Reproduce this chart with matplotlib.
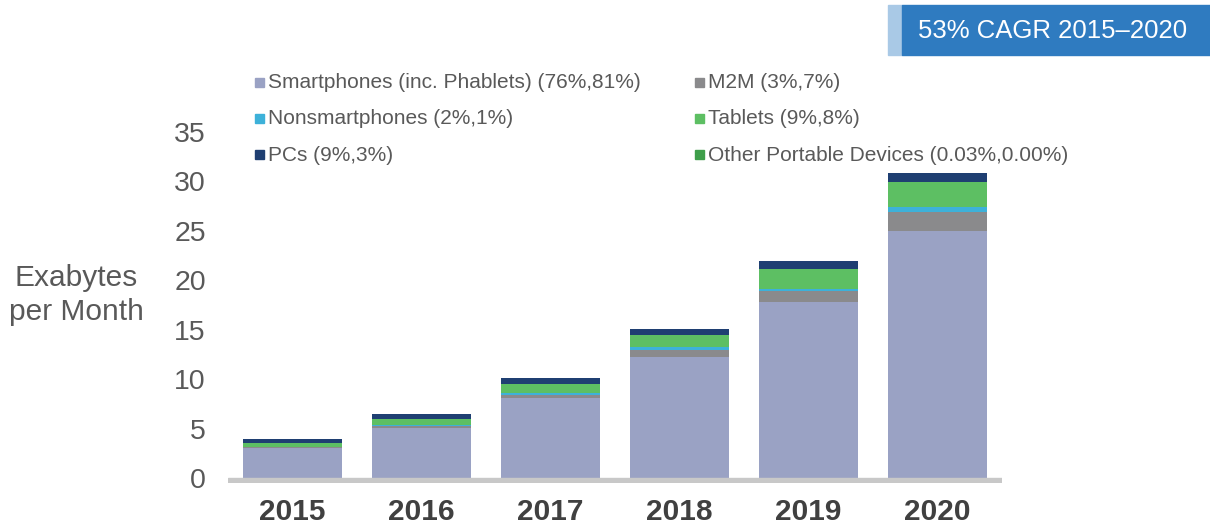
import matplotlib
matplotlib.use("Agg")
import matplotlib.pyplot as plt
import numpy as np

# data (exabytes per month)
years = ["2015", "2016", "2017", "2018", "2019", "2020"]
smartphones = [3.0, 5.1, 8.1, 12.2, 17.8, 25.0]
m2m = [0.1, 0.15, 0.35, 0.8, 1.1, 1.9]
nonsmartphones = [0.05, 0.1, 0.2, 0.3, 0.2, 0.5]
tablets = [0.35, 0.65, 0.9, 1.2, 2.0, 2.5]
pcs = [0.4, 0.5, 0.6, 0.6, 0.9, 1.0]
other_portable = [0.0, 0.0, 0.0, 0.0, 0.0, 0.0]

series = [smartphones, m2m, nonsmartphones, tablets, pcs, other_portable]
colors = ["#9aa2c4", "#8a8a8c", "#3db1d9", "#5dbf63", "#1f3f72", "#3e9e4a"]

legend_labels = [
    "Smartphones (inc. Phablets) (76%,81%)",
    "M2M (3%,7%)",
    "Nonsmartphones (2%,1%)",
    "Tablets (9%,8%)",
    "PCs (9%,3%)",
    "Other Portable Devices (0.03%,0.00%)",
]
legend_colors = ["#9aa2c4", "#8a8a8c", "#3db1d9", "#5dbf63", "#1f3f72", "#3e9e4a"]

plt.rcParams["font.family"] = ["Liberation Sans", "DejaVu Sans"]

fig = plt.figure(figsize=(12.1, 5.27), dpi=100)
ax = fig.add_axes([228 / 1210, 1 - 483 / 527, 774 / 1210, 351 / 527])

x = np.arange(len(years))
bottom = np.zeros(len(years))
for vals, col in zip(series, colors):
    ax.bar(x, vals, width=0.775, bottom=bottom, color=col, zorder=2)
    bottom += np.array(vals)

ax.axhspan(-0.5, 0, color="#c8c8c8", zorder=3)
ax.set_xlim(-0.5, 5.5)
ax.set_ylim(-0.5, 35)
ax.set_yticks(range(0, 36, 5))
ax.set_xticks(x)
ax.set_xticklabels(years, fontsize=21.5, fontweight="bold", color="#404040")
ax.tick_params(axis="y", length=0, pad=16, labelsize=20.5, labelcolor="#595959")
ax.tick_params(axis="x", length=0, pad=11)
for s in ax.spines.values():
    s.set_visible(False)

fig.text(76 / 1210, 1 - 295 / 527, "Exabytes\nper Month", fontsize=21.5,
         color="#595959", ha="center", va="center", linespacing=1.25)

# legend drawn by hand in two columns
cols_x = [255, 695]
rows_y = [83, 119, 155]
for i, (lab, col) in enumerate(zip(legend_labels, legend_colors)):
    cx = cols_x[i % 2]
    cy = rows_y[i // 2]
    fig.patches.append(plt.Rectangle((cx / 1210, 1 - (cy + 4) / 527), 9 / 1210, 9 / 527,
                                     transform=fig.transFigure, color=col))
    fig.text((cx + 13) / 1210, 1 - cy / 527, lab, fontsize=15, color="#595959",
             ha="left", va="center")

# CAGR box in the top right corner
fig.patches.append(plt.Rectangle((888 / 1210, 1 - 55 / 527), 14 / 1210, 50 / 527,
                                 transform=fig.transFigure, color="#a9c9e6"))
fig.patches.append(plt.Rectangle((902 / 1210, 1 - 55 / 527), 308 / 1210, 50 / 527,
                                 transform=fig.transFigure, color="#2f7bc0"))
fig.text(1053 / 1210, 1 - 31 / 527, "53% CAGR 2015\u20132020", fontsize=18.5,
         color="white", ha="center", va="center")

fig.savefig("out.png", dpi=100)
